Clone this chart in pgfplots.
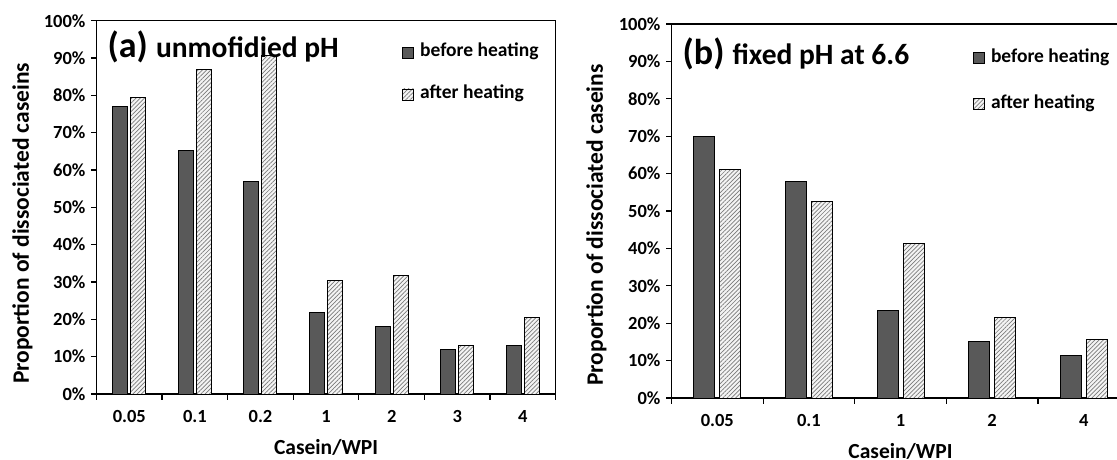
\documentclass[border=0pt]{standalone}
\usepackage{fontspec}
\setmainfont{Carlito}
\usepackage{pgfplots}
\pgfplotsset{compat=1.18}
\usetikzlibrary{patterns.meta}

\definecolor{barDark}{HTML}{595959}
\definecolor{hatchgray}{HTML}{7A7A7A}
\definecolor{hatchback}{HTML}{F4F4F4}

\newcommand{\tickfont}{\fontsize{18.5}{21}\selectfont\bfseries}

\tikzset{
  before/.style={fill=barDark,draw=black,line width=1pt},
  after/.style={fill=hatchback,draw=black,line width=1pt,
    postaction={pattern={Lines[angle=45,distance=3pt,line width=0.7pt]},pattern color=hatchgray}},
}

\pgfplotsset{
  panel/.style={
    scale only axis, anchor=south west,
    ymin=0, ymax=100, ytick={0,10,...,100},
    yticklabel={\tickfont\pgfmathprintnumber{\tick}\%},
    /pgf/number format/assume math mode=true,
    tick pos=left, tick align=outside,
    major tick length=5.5pt,
    tick style={draw=black,line width=1.2pt},
    axis line style={line width=1.4pt},
    xticklabels={},
    extra x tick style={major tick length=0pt},
    tick label style={font=\tickfont},
    yticklabel style={xshift=-2pt,font=\tickfont},
    xticklabel style={yshift=-13pt,font=\tickfont},
    xlabel={Casein/WPI},
    ylabel={Proportion of dissociated caseins},
    every axis x label/.style={at={(rel axis cs:0.5,0)},anchor=base,
      yshift=-60pt,font=\fontsize{21.5}{24}\selectfont\bfseries},
    legend cell align=left,
    legend style={draw=none,fill=none,inner sep=0pt,
      font=\fontsize{19.5}{21}\selectfont\bfseries,
      nodes={text height=12pt,text depth=3pt,inner sep=1pt}},
  },
  ylab/.style 2 args={every axis y label/.style={at={(rel axis cs:0,0.5)},
      xshift=#1,yshift=#2,rotate=90,anchor=center,font=\fontsize{23.5}{26}\selectfont\bfseries}},
  sq/.style={legend image code/.code={%
    \draw[##1,line width=0.8pt] (0pt,-5.5pt) rectangle (11pt,5.5pt);
    \path (16pt,0pt);}},
}

\begin{document}
\begin{tikzpicture}

% (a) unmodified pH
\begin{axis}[panel, ylab={-74pt}{-16pt},
  at={(96.5pt,65pt)}, width=459.2pt, height=373.3pt,
  ybar=3pt, bar width=15pt,
  xmin=-0.5, xmax=6.5,
  xtick={-0.5,0.5,...,6.5},
  extra x ticks={0,1,2,3,4,5,6},
  extra x tick labels={{\tickfont 0.05},{\tickfont 0.1},{\tickfont 0.2},{\tickfont 1},{\tickfont 2},{\tickfont 3},{\tickfont 4}},
  legend style={at={(1,1)},anchor=north east,xshift=-16pt,yshift=-23pt,row sep=25pt}]
\addplot[before,sq] coordinates {(0,76.9)(1,65.1)(2,57.0)(3,21.8)(4,18.2)(5,11.9)(6,12.9)};
\addlegendentry{before heating}
\addplot[after,sq] coordinates {(0,79.4)(1,86.9)(2,90.7)(3,30.4)(4,31.7)(5,13.0)(6,20.6)};
\addlegendentry{after heating}
\node[anchor=base west,inner sep=0pt] at (rel axis cs:0,1) [xshift=11pt,yshift=-37pt]
  {\bfseries\fontsize{36}{40}\selectfont(a) \fontsize{29.5}{30}\selectfont unmofidied pH};
\end{axis}

% (b) fixed pH at 6.6
\begin{axis}[panel, ylab={-75pt}{-14pt},
  at={(671.5pt,61pt)}, width=458pt, height=374pt,
  ybar=5pt, bar width=21pt,
  xmin=-0.5, xmax=4.5,
  xtick={-0.5,0.5,...,4.5},
  extra x ticks={0,1,2,3,4},
  extra x tick labels={{\tickfont 0.05},{\tickfont 0.1},{\tickfont 1},{\tickfont 2},{\tickfont 4}},
  legend style={at={(1,1)},anchor=north east,xshift=-19pt,yshift=-25pt,row sep=29pt}]
\addplot[before,sq] coordinates {(0,69.9)(1,57.9)(2,23.3)(3,15.0)(4,11.3)};
\addlegendentry{before heating}
\addplot[after,sq] coordinates {(0,61.0)(1,52.5)(2,41.2)(3,21.4)(4,15.6)};
\addlegendentry{after heating}
\node[anchor=base west,inner sep=0pt] at (rel axis cs:0,1) [xshift=11pt,yshift=-40pt]
  {\bfseries\fontsize{36}{40}\selectfont(b) \fontsize{29.5}{30}\selectfont fixed pH at 6.6};
\end{axis}

\pgfresetboundingbox
\path[use as bounding box] (0pt,0pt) rectangle (1117pt,459pt);
\end{tikzpicture}
\end{document}
